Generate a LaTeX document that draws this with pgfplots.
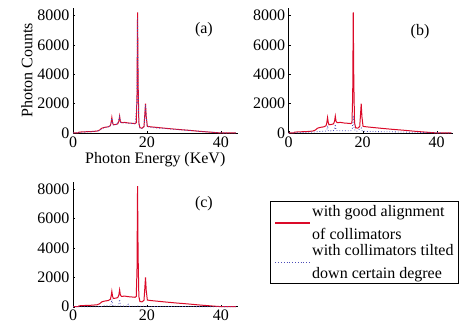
\documentclass[border=0pt]{standalone}
\usepackage{fontspec}
\setmainfont{Liberation Serif}
\usepackage{pgfplots}
\usepackage{pgfplotstable}
\pgfplotsset{compat=1.18}
\definecolor{myred}{rgb}{0.86,0.04,0.16}
\definecolor{myblue}{rgb}{0.30,0.30,0.72}

\pgfplotstableread{
x y
0 0
1.4 0
1.6 60
3 80
5 100
6.5 130
7.2 200
7.8 330
8.5 380
9.5 420
10.1 500
10.3 700
10.5 1050
10.7 700
10.9 560
11.5 580
12.1 620
12.4 800
12.6 1150
12.8 800
13.1 700
14 720
15 680
16 660
16.8 640
17.1 700
17.3 2500
17.45 8200
17.6 3500
17.8 700
18.1 350
18.7 330
19.2 450
19.4 1200
19.6 2000
19.8 1100
20.1 450
21 420
23 370
25 320
28 250
31 190
34 120
37 60
39 20
40.5 0
44 0
}\redtab

\pgfplotstableread{
x y
0 0
1.5 20
3 70
5 90
7 150
7.8 300
8.5 360
9.5 420
10.1 480
10.5 1000
10.9 550
12 600
12.6 1100
12.9 720
14 680
16.8 620
17.3 2200
17.45 7800
17.6 3000
17.8 650
18.1 320
18.7 300
19.2 420
19.6 1900
20 450
21 380
25 300
30 200
35 100
40 10
44 0
}\blueA

\pgfplotstableread{
x y
0 0
1.5 10
4 40
7 70
8 100
10 130
10.3 200
10.5 500
10.7 150
12 140
12.4 250
12.6 600
12.8 180
14 150
16.8 150
17.2 300
17.45 1200
17.7 250
18.3 100
19.6 350
19.9 120
22 100
28 80
34 50
40 10
44 0
}\blueB

\pgfplotstableread{
x y
0 0
7.5 0
8.5 60
10.2 50
10.5 500
10.8 40
12.3 50
12.6 500
12.9 40
14.7 40
14.9 150
15.1 20
17.45 40
20 20
30 10
40 0
44 0
}\blueC

\pgfplotsset{
  myax/.style={
    scale only axis, width=164.6pt, height=125pt,
    xmin=0, xmax=44.5, ymin=0, ymax=8500,
    axis x line*=bottom, axis y line*=left,
    axis line style={black, line width=0.8pt},
    xtick={0,20,40}, ytick={0,2000,4000,6000,8000},
    major tick length=2pt, tick align=inside,
    tick style={black},
    scaled y ticks=false,
    /pgf/number format/assume math mode=true,
    /pgf/number format/1000 sep={},
    tick label style={font=\fontsize{16}{18}\selectfont},
    label style={font=\fontsize{16}{18}\selectfont},
    clip=false,
  },
  redline/.style={color=myred, draw=myred, line width=1pt},
  blueline/.style={color=myblue, draw=myblue, line width=0.8pt, dotted},
}

\begin{document}
\begin{tikzpicture}[x=1pt,y=1pt]
\useasboundingbox (0,0) rectangle (462,329);

\begin{axis}[myax, at={(73pt,196pt)}, anchor=south west,
  xlabel={Photon Energy (KeV)}, ylabel={Photon Counts},
  xlabel style={yshift=2pt}, ylabel style={yshift=-2pt}]
\addplot[redline] table {\redtab};
\addplot[blueline] table {\blueA};
\node[font=\fontsize{16}{18}\selectfont] at (axis cs:35.4,7040) {(a)};
\end{axis}

\begin{axis}[myax, at={(288.7pt,196pt)}, anchor=south west]
\addplot[redline] table {\redtab};
\addplot[blueline] table {\blueB};
\node[font=\fontsize{16}{18}\selectfont] at (axis cs:35.5,6900) {(b)};
\end{axis}

\begin{axis}[myax, at={(73pt,22.3pt)}, anchor=south west,
  legend style={at={(1.197,0.845)}, anchor=north west,
    draw=black, line width=1.2pt, inner xsep=4pt, inner ysep=3pt,
    nodes={align=left, inner sep=1pt, line width=0.4pt,
      font=\fontsize{16}{19.5}\selectfont},
    row sep=2pt},
  legend cell align=left]
\addplot[redline, forget plot] table {\redtab};
\addplot[blueline, forget plot] table {\blueC};
\addlegendimage{legend image code/.code={\draw[draw=myred, line width=1.6pt, solid] (0pt,0pt) -- (35pt,0pt);}}
\addlegendentry{with good alignment\\[3pt]of collimators}
\addlegendimage{legend image code/.code={\draw[draw=myblue, line width=0.8pt, dotted] (0pt,0pt) -- (35pt,0pt);}}
\addlegendentry{with collimators tilted\\[3pt]down certain degree}
\node[font=\fontsize{16}{18}\selectfont] at (axis cs:35.4,7000) {(c)};
\end{axis}
\end{tikzpicture}
\end{document}
